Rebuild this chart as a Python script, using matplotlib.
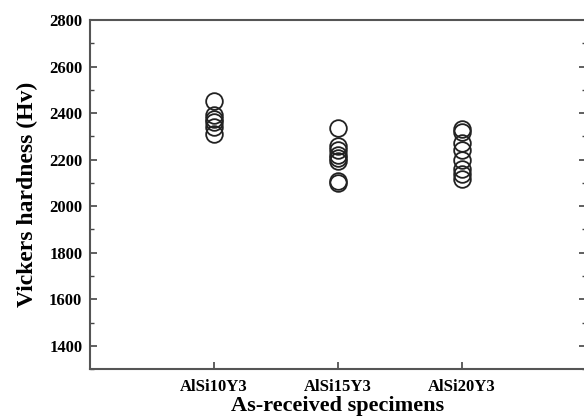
import numpy as np
import matplotlib.pyplot as plt
from matplotlib.ticker import MultipleLocator

specimens = ['AlSi10Y3', 'AlSi15Y3', 'AlSi20Y3']
hv_10 = [2450, 2390, 2375, 2360, 2340, 2310]
hv_15 = [2335, 2260, 2240, 2220, 2205, 2195, 2110, 2100]
hv_20 = [2330, 2320, 2270, 2240, 2200, 2160, 2140, 2115]
hardness = [hv_10, hv_15, hv_20]

plt.rcParams['font.family'] = ['Liberation Serif', 'DejaVu Serif']
plt.rcParams['font.weight'] = 'bold'

fig = plt.figure(figsize=(5.84, 4.17), dpi=100)
ax = fig.add_axes([0.154, 0.115, 0.849, 0.837])

for i, vals in enumerate(hardness):
    ax.plot([i + 1] * len(vals), vals, 'o', ms=12, mfc='none', mec='#222222', mew=1.3)

ax.set_xlim(0, 4)
ax.set_ylim(1300, 2800)
ax.set_xticks([1, 2, 3])
ax.set_xticklabels(specimens, fontsize=12, fontweight='bold')
ax.yaxis.set_major_locator(MultipleLocator(200))
ax.yaxis.set_minor_locator(MultipleLocator(100))
ax.tick_params(axis='both', which='both', direction='in', right=True, labelsize=12, color='#444444')
ax.tick_params(which='major', length=5, width=1.2)
ax.tick_params(axis='y', which='major', pad=5.5)
ax.tick_params(axis='x', which='major', pad=7)
ax.tick_params(which='minor', length=3, width=1)
for lab in ax.get_yticklabels():
    lab.set_fontweight('bold')
for sp in ax.spines.values():
    sp.set_linewidth(1.5)
    sp.set_color('#555555')

ax.set_xlabel('As-received specimens', fontsize=16, fontweight='bold', labelpad=1)
ax.set_ylabel('Vickers hardness (Hv)', fontsize=17, fontweight='bold', labelpad=8)

fig.savefig('out.png', dpi=100)
